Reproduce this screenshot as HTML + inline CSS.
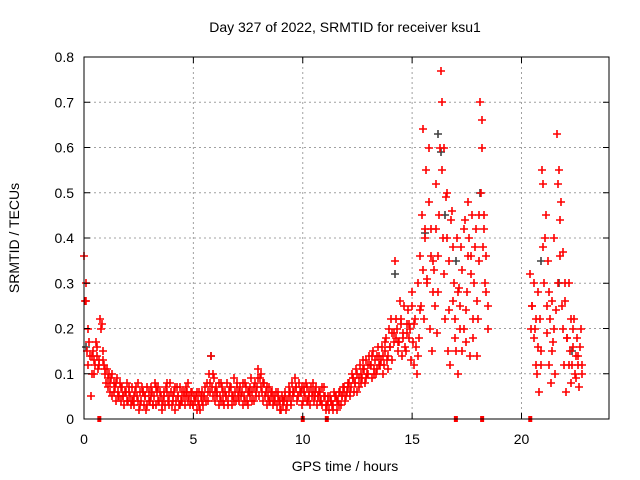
<!DOCTYPE html>
<html><head><meta charset="utf-8"><style>
body{margin:0;background:#fff;}
svg{display:block;font-family:"Liberation Sans",sans-serif;}
</style></head><body>
<svg id="chart" width="640" height="480" viewBox="0 0 640 480" xmlns="http://www.w3.org/2000/svg">
<text x="345" y="32" font-size="14" text-anchor="middle" fill="#000">Day 327 of 2022, SRMTID for receiver ksu1</text>
<text transform="translate(19,238) rotate(-90)" font-size="14" text-anchor="middle" fill="#000">SRMTID / TECUs</text>
<text x="345" y="471" font-size="14" text-anchor="middle" fill="#000">GPS time / hours</text>
<g id="grid"></g>
<g id="black"></g>
<g id="red"></g>
<g id="axes"></g>
</svg>
<script>
const xTicks=[0,5,10,15,20];
const yTicks=[0,0.1,0.2,0.3,0.4,0.5,0.6,0.7,0.8];
const yTickLabels=["0","0.1","0.2","0.3","0.4","0.5","0.6","0.7","0.8"];
const hours=[0,0.1,0.2,0.3,0.4,0.5,0.6,0.7,0.8,0.9,1,1.1,1.2,1.3,1.4,1.5,1.6,1.7,1.8,1.9,2,2.1,2.2,2.3,2.4,2.5,2.6,2.7,2.8,2.9,3,3.1,3.2,3.3,3.4,3.5,3.6,3.7,3.8,3.9,4,4.1,4.2,4.3,4.4,4.5,4.6,4.7,4.8,4.9,5,5.1,5.2,5.3,5.4,5.5,5.6,5.7,5.8,5.9,6,6.1,6.2,6.3,6.4,6.5,6.6,6.7,6.8,6.9,7,7.1,7.2,7.3,7.4,7.5,7.6,7.7,7.8,7.9,8,8.1,8.2,8.3,8.4,8.5,8.6,8.7,8.8,8.9,9,9.1,9.2,9.3,9.4,9.5,9.6,9.7,9.8,9.9,10,10.1,10.2,10.3,10.4,10.5,10.6,10.7,10.8,10.9,11,11.1,11.2,11.3,11.4,11.5,11.6,11.7,11.8,11.9,12,12.1,12.2,12.3,12.4,12.5,12.6,12.7,12.8,12.9,13,13.1,13.2,13.3,13.4,13.5,13.6,13.7,13.8,13.9,14,14.1,14.2,14.3,14.4,14.5,14.6,14.7,14.8,14.9,15,15.1,15.2,15.3,15.4,15.5,15.6,15.7,15.8,15.9,16,16.1,16.2,16.3,16.4,16.5,16.6,16.7,16.8,16.9,17,17.1,17.2,17.3,17.4,17.5,17.6,17.7,17.8,17.9,18,18.1,18.2,18.3,18.4,20.4,20.5,20.6,20.7,20.8,20.9,21,21.1,21.2,21.3,21.4,21.5,21.6,21.7,21.8,21.9,22,22.1,22.2,22.3,22.4,22.5,22.6,22.7];
const srmtidA=[.36,.26,.12,.05,.15,.12,.14,.13,.21,.12,.08,.07,.06,.05,.07,.09,.05,.04,.05,.06,.04,.05,.07,.03,.05,.02,.04,.06,.05,.03,.04,.06,.05,.03,.07,.05,.04,.03,.06,.05,.03,.06,.04,.05,.07,.04,.03,.06,.05,.04,.03,.05,.04,.02,.06,.05,.08,.10,.14,.05,.04,.06,.05,.07,.03,.05,.04,.07,.05,.06,.08,.04,.06,.05,.07,.03,.05,.06,.08,.07,.05,.10,.04,.06,.05,.04,.06,.05,.03,.04,.02,.03,.05,.04,.06,.08,.06,.07,.05,.06,.04,.05,.07,.06,.05,.04,.07,.05,.06,.03,.05,.03,.02,.04,.03,.05,.04,.06,.05,.07,.06,.08,.07,.09,.08,.10,.12,.09,.11,.13,.10,.12,.15,.13,.11,.14,.16,.12,.18,.14,.16,.13,.35,.20,.17,.22,.19,.15,.24,.20,.28,.12,.10,.18,.25,.64,.40,.31,.20,.15,.33,.52,.28,.77,.40,.22,.50,.35,.46,.30,.15,.10,.25,.33,.44,.28,.40,.36,.18,.42,.22,.70,.60,.45,.28,.32,.25,.20,.10,.06,.15,.52,.45,.35,.22,.26,.40,.63,.55,.48,.37,.26,.18,.15,.12,.22,.09,.14,.20];
const srmtidB=[.26,.15,.17,.14,.10,.17,.11,.22,.15,.10,.11,.10,.09,.08,.04,.05,.08,.07,.03,.08,.07,.03,.04,.06,.08,.06,.07,.03,.02,.06,.07,.03,.08,.06,.04,.02,.06,.07,.04,.08,.05,.02,.07,.03,.04,.06,.05,.08,.03,.06,.05,.02,.06,.05,.03,.07,.04,.06,.07,.09,.07,.03,.08,.04,.06,.08,.06,.03,.09,.04,.05,.07,.03,.08,.04,.06,.09,.04,.05,.11,.09,.06,.08,.03,.07,.06,.03,.04,.06,.02,.05,.04,.02,.07,.03,.05,.09,.04,.08,.03,.07,.08,.04,.03,.08,.06,.03,.06,.04,.07,.02,.04,.05,.03,.06,.02,.06,.03,.07,.04,.08,.05,.10,.06,.11,.07,.08,.13,.08,.10,.14,.09,.11,.10,.16,.12,.10,.15,.13,.20,.22,.19,.18,.15,.26,.14,.25,.21,.18,.13,.17,.22,.30,.36,.45,.22,.55,.48,.42,.35,.25,.19,.45,.70,.60,.49,.15,.12,.26,.18,.40,.29,.38,.20,.17,.48,.14,.45,.30,.26,.35,.50,.38,.30,.20,.20,.18,.12,.28,.22,.55,.30,.19,.12,.08,.17,.10,.30,.44,.25,.12,.06,.30,.08,.20,.10,.18,.07,.12];
const srmtidC=[.30,.20,.14,.10,.13,.16,.12,.20,.13,.11,.09,.08,.10,.06,.08,.06,.07,.05,.06,.04,.06,.04,.05,.07,.04,.03,.06,.05,.07,.04,.05,.03,.07,.04,.06,.03,.05,.08,.03,.06,.04,.07,.05,.03,.06,.05,.07,.04,.06,.03,.04,.06,.03,.04,.05,.04,.06,.08,.10,.06,.05,.08,.04,.06,.05,.03,.07,.05,.04,.07,.06,.05,.08,.04,.06,.07,.04,.07,.06,.09,.07,.08,.05,.07,.04,.05,.04,.06,.05,.04,.04,.06,.03,.05,.04,.06,.07,.05,.06,.07,.06,.04,.05,.07,.06,.05,.05,.04,.07,.05,.03,.05,.04,.02,.05,.04,.03,.05,.06,.05,.07,.06,.09,.08,.06,.09,.10,.11,.09,.12,.12,.14,.10,.14,.12,.13,.14,.17,.11,.16,.19,.17,.22,.17,.21,.18,.16,.19,.21,.25,.21,.16,.14,.24,.33,.42,.30,.60,.36,.28,.42,.36,.60,.55,.32,.40,.24,.44,.38,.22,.28,.20,.15,.42,.24,.36,.32,.22,.38,.14,.45,.66,.42,.36,.25,.25,.30,.22,.16,.12,.38,.40,.25,.28,.15,.20,.24,.52,.36,.20,.30,.18,.12,.22,.16,.14,.12,.16,.10];
const blackHours=[0.1,5.8,14.2,15.6,16.2,16.3,16.5,17.0,18.1,20.9,21.7,22.3];
const blackVals=[.16,.14,.32,.41,.63,.59,.45,.35,.50,.35,.30,.15];
const flagHours=[0.7,10.0,11.1,17.0,18.2,20.4];

const L=84,R=609,T=57,B=419,XMAX=24,YMAX=0.8;
const xs=h=>L+(h/XMAX)*(R-L);
const ys=v=>B-(v/YMAX)*(B-T);
const NS="http://www.w3.org/2000/svg";
function mk(tag,attrs,parent){const e=document.createElementNS(NS,tag);for(const k in attrs)e.setAttribute(k,attrs[k]);parent.appendChild(e);return e;}
const grid=document.getElementById('grid'),axes=document.getElementById('axes');
yTicks.forEach((v,i)=>{
  const y=ys(v);
  if(i>0&&i<yTicks.length-1){const g=mk('line',{x1:L,x2:R,y1:y,y2:y,stroke:'#a0a0a0','stroke-dasharray':'2,3','stroke-width':1},grid);
  
  }
  mk('line',{x1:L,x2:L+6,y1:y,y2:y,stroke:'#000'},axes);
  mk('line',{x1:R,x2:R-6,y1:y,y2:y,stroke:'#000'},axes);
  const t=mk('text',{x:L-10,y:y+5,'font-size':14,'text-anchor':'end'},axes);t.textContent=yTickLabels[i];
  
  
});
xTicks.forEach(h=>{
  const x=xs(h);
  if(h>0){const g=mk('line',{x1:x,x2:x,y1:T,y2:B,stroke:'#a0a0a0','stroke-dasharray':'2,3','stroke-width':1},grid);
  
  }
  mk('line',{x1:x,x2:x,y1:B,y2:B-6,stroke:'#000'},axes);
  mk('line',{x1:x,x2:x,y1:T,y2:T+6,stroke:'#000'},axes);
  const t=mk('text',{x:x,y:B+25,'font-size':14,'text-anchor':'middle'},axes);t.textContent=String(h);
  
  
});
const frame=mk('rect',{x:L,y:T,width:R-L,height:B-T,fill:'none',stroke:'#000','stroke-width':1},axes);


function plus(h,v,color,parent){
  const x=Math.round(xs(h)),y=Math.round(ys(v));
  const p=mk('path',{d:`M${x-4} ${y}H${x+4}M${x} ${y-4}V${y+4}`,stroke:color,'stroke-width':1.6,fill:'none'},parent);
  
  
}
const blk=document.getElementById('black'),red=document.getElementById('red');
blackHours.forEach((h,i)=>plus(h,blackVals[i],'#404040',blk));
hours.forEach((h,i)=>{
  plus(h,srmtidA[i],'#ff0000',red);
  plus(h+0.05,srmtidB[i],'#ff0000',red);
  plus(h+0.075,srmtidC[i],'#ff0000',red);
});
flagHours.forEach(h=>{
  const r=mk('rect',{x:xs(h)-2,y:B-3,width:4,height:6,fill:'#ff0000'},red);
  
  
});
</script>
</body></html>
